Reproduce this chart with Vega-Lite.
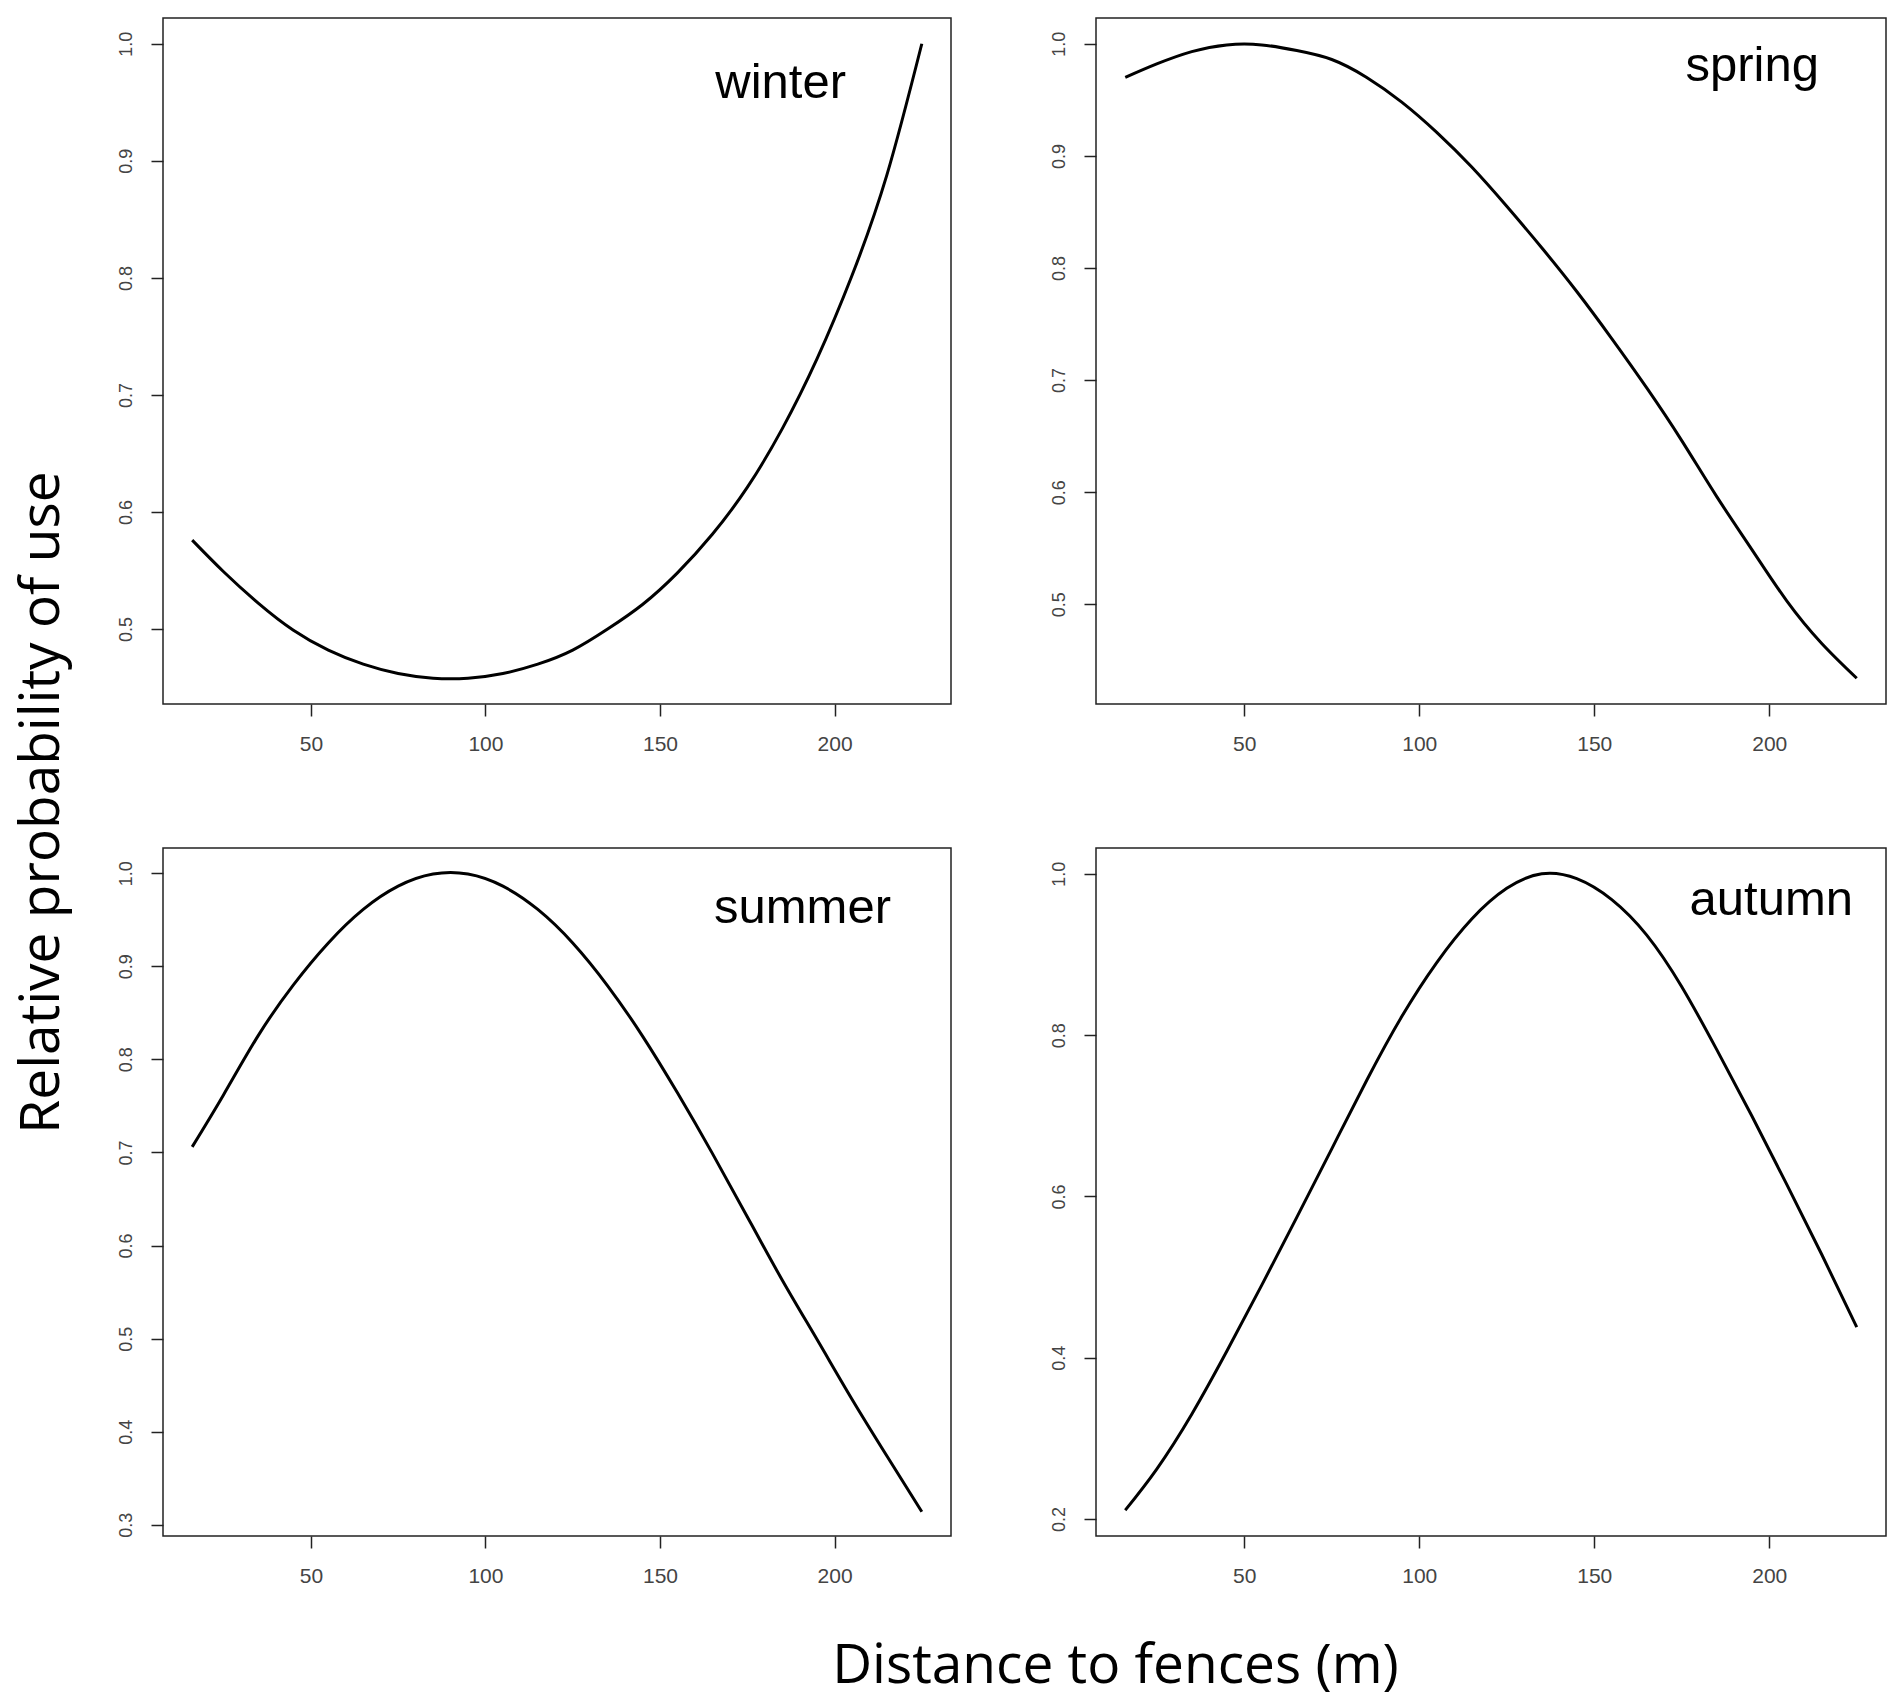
{
  "$schema": "https://vega.github.io/schema/vega-lite/v6.json",
  "background": "white",
  "padding": {"left": 15, "top": 17, "right": 2, "bottom": 5},
  "datasets": {
    "winter": [
      {"d": 16, "p": 0.576}, {"d": 25, "p": 0.549}, {"d": 35, "p": 0.522}, {"d": 45, "p": 0.499},
      {"d": 55, "p": 0.482}, {"d": 65, "p": 0.47}, {"d": 75, "p": 0.462}, {"d": 85, "p": 0.458},
      {"d": 95, "p": 0.458}, {"d": 105, "p": 0.462}, {"d": 115, "p": 0.47}, {"d": 125, "p": 0.482},
      {"d": 135, "p": 0.5}, {"d": 145, "p": 0.521}, {"d": 155, "p": 0.548}, {"d": 165, "p": 0.581},
      {"d": 175, "p": 0.621}, {"d": 185, "p": 0.671}, {"d": 195, "p": 0.731}, {"d": 205, "p": 0.802},
      {"d": 215, "p": 0.888}, {"d": 225, "p": 1.0}
    ],
    "spring": [
      {"d": 16, "p": 0.97}, {"d": 25, "p": 0.982}, {"d": 35, "p": 0.993}, {"d": 45, "p": 0.999},
      {"d": 55, "p": 0.999}, {"d": 65, "p": 0.994}, {"d": 75, "p": 0.986},
      {"d": 85, "p": 0.97}, {"d": 95, "p": 0.948}, {"d": 105, "p": 0.921}, {"d": 115, "p": 0.89},
      {"d": 125, "p": 0.855}, {"d": 135, "p": 0.818}, {"d": 145, "p": 0.779}, {"d": 155, "p": 0.737},
      {"d": 165, "p": 0.693}, {"d": 175, "p": 0.646}, {"d": 185, "p": 0.596}, {"d": 195, "p": 0.549},
      {"d": 205, "p": 0.503}, {"d": 215, "p": 0.465}, {"d": 225, "p": 0.434}
    ],
    "summer": [
      {"d": 16, "p": 0.706}, {"d": 25, "p": 0.762}, {"d": 35, "p": 0.826}, {"d": 45, "p": 0.88},
      {"d": 55, "p": 0.925}, {"d": 65, "p": 0.961}, {"d": 75, "p": 0.986}, {"d": 85, "p": 0.999},
      {"d": 95, "p": 0.999}, {"d": 105, "p": 0.986}, {"d": 115, "p": 0.961},
      {"d": 125, "p": 0.925}, {"d": 135, "p": 0.879}, {"d": 145, "p": 0.825}, {"d": 155, "p": 0.764},
      {"d": 165, "p": 0.699}, {"d": 175, "p": 0.631}, {"d": 185, "p": 0.563}, {"d": 195, "p": 0.499},
      {"d": 205, "p": 0.435}, {"d": 215, "p": 0.374}, {"d": 225, "p": 0.314}
    ],
    "autumn": [
      {"d": 16, "p": 0.211}, {"d": 25, "p": 0.262}, {"d": 35, "p": 0.33}, {"d": 45, "p": 0.408},
      {"d": 55, "p": 0.49}, {"d": 65, "p": 0.574}, {"d": 75, "p": 0.659}, {"d": 85, "p": 0.744},
      {"d": 95, "p": 0.823}, {"d": 105, "p": 0.89}, {"d": 115, "p": 0.944}, {"d": 125, "p": 0.982},
      {"d": 135, "p": 1.0}, {"d": 145, "p": 0.994}, {"d": 155, "p": 0.968}, {"d": 165, "p": 0.924},
      {"d": 175, "p": 0.86}, {"d": 185, "p": 0.782}, {"d": 195, "p": 0.7}, {"d": 205, "p": 0.615},
      {"d": 215, "p": 0.528}, {"d": 225, "p": 0.438}
    ]
  },
  "title": {
    "text": "Relative probability of use",
    "orient": "left",
    "anchor": "middle",
    "frame": "bounds",
    "baseline": "alphabetic",
    "offset": 2,
    "dx": 53,
    "font": "Open Sans",
    "fontSize": 55,
    "fontWeight": "normal",
    "color": "black"
  },
  "vconcat": [
    {
      "title": {
        "text": "Distance to fences (m)",
        "orient": "bottom",
        "anchor": "middle",
        "frame": "bounds",
        "baseline": "alphabetic",
        "offset": 96,
        "dx": 114,
        "font": "Open Sans",
        "fontSize": 55,
        "fontWeight": "normal",
        "color": "black"
      },
      "columns": 2,
      "spacing": {"row": 92, "column": 97},
      "concat": [
        {
          "width": 788,
          "height": 686,
          "title": {"text": "winter", "dx": -105, "offset": -90},
          "data": {"name": "winter"},
          "mark": {"type": "line", "color": "black", "strokeWidth": 3, "interpolate": "natural"},
          "encoding": {
            "x": {"field": "d", "type": "quantitative", "scale": {"domain": [7.64, 233.36], "nice": false, "zero": false}, "axis": {"values": [50, 100, 150, 200]}},
            "y": {"field": "p", "type": "quantitative", "scale": {"domain": [0.436, 1.022], "nice": false, "zero": false}, "axis": {"values": [0.5, 0.6, 0.7, 0.8, 0.9, 1.0]}}
          }
        },
        {
          "width": 790,
          "height": 686,
          "title": {"text": "spring", "dx": -67, "offset": -73},
          "data": {"name": "spring"},
          "mark": {"type": "line", "color": "black", "strokeWidth": 3, "interpolate": "natural"},
          "encoding": {
            "x": {"field": "d", "type": "quantitative", "scale": {"domain": [7.64, 233.36], "nice": false, "zero": false}, "axis": {"values": [50, 100, 150, 200]}},
            "y": {"field": "p", "type": "quantitative", "scale": {"domain": [0.411, 1.023], "nice": false, "zero": false}, "axis": {"values": [0.5, 0.6, 0.7, 0.8, 0.9, 1.0]}}
          }
        },
        {
          "width": 788,
          "height": 688,
          "title": {"text": "summer", "dx": -60, "offset": -85},
          "data": {"name": "summer"},
          "mark": {"type": "line", "color": "black", "strokeWidth": 3, "interpolate": "natural"},
          "encoding": {
            "x": {"field": "d", "type": "quantitative", "scale": {"domain": [7.64, 233.36], "nice": false, "zero": false}, "axis": {"values": [50, 100, 150, 200]}},
            "y": {"field": "p", "type": "quantitative", "scale": {"domain": [0.288, 1.027], "nice": false, "zero": false}, "axis": {"values": [0.3, 0.4, 0.5, 0.6, 0.7, 0.8, 0.9, 1.0]}}
          }
        },
        {
          "width": 790,
          "height": 688,
          "title": {"text": "autumn", "dx": -33, "offset": -77},
          "data": {"name": "autumn"},
          "mark": {"type": "line", "color": "black", "strokeWidth": 3, "interpolate": "natural"},
          "encoding": {
            "x": {"field": "d", "type": "quantitative", "scale": {"domain": [7.64, 233.36], "nice": false, "zero": false}, "axis": {"values": [50, 100, 150, 200]}},
            "y": {"field": "p", "type": "quantitative", "scale": {"domain": [0.179, 1.032], "nice": false, "zero": false}, "axis": {"values": [0.2, 0.4, 0.6, 0.8, 1.0]}}
          }
        }
      ]
    }
  ],
  "config": {
    "view": {"stroke": "#222", "strokeWidth": 1.5},
    "title": {
      "anchor": "end",
      "frame": "group",
      "baseline": "alphabetic",
      "font": "Liberation Sans",
      "fontSize": 49,
      "fontWeight": "normal",
      "color": "black"
    },
    "axis": {
      "title": null,
      "grid": false,
      "domain": false,
      "ticks": true,
      "tickSize": 12,
      "tickWidth": 1.5,
      "tickColor": "#222",
      "labelFont": "Liberation Sans",
      "labelColor": "#444"
    },
    "axisX": {"labelFontSize": 21, "labelPadding": 17},
    "axisY": {
      "labelFontSize": 18,
      "labelAngle": -90,
      "labelAlign": "center",
      "labelBaseline": "alphabetic",
      "labelPadding": 20,
      "format": ".1f"
    }
  }
}
